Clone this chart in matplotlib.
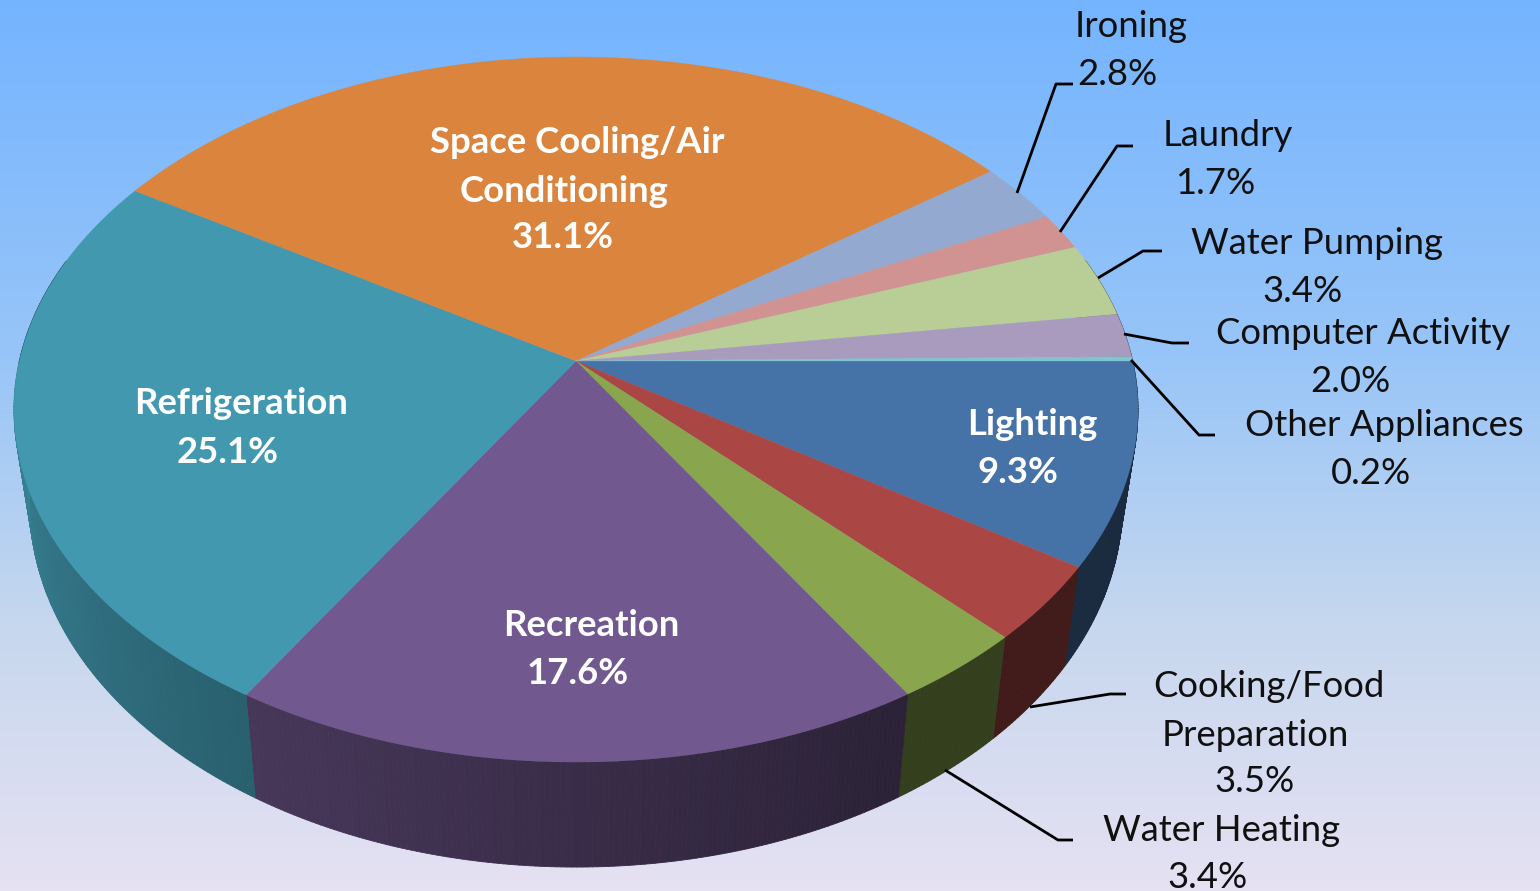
import numpy as np
import matplotlib
matplotlib.use('Agg')
import matplotlib.pyplot as plt
from matplotlib.collections import PolyCollection
from matplotlib.colors import LinearSegmentedColormap, to_rgb

# clockwise from 3 o'clock
categorias = ['Lighting', 'Cooking/Food Preparation', 'Water Heating', 'Recreation',
              'Refrigeration', 'Space Cooling/Air Conditioning', 'Ironing', 'Laundry',
              'Water Pumping', 'Computer Activity', 'Other Appliances']
valores = [9.3, 3.5, 3.4, 17.6, 25.1, 31.1, 2.8, 1.7, 3.4, 2.0, 0.2]
cores = ['#4572A7', '#AA4643', '#89A54E', '#71588F', '#4198AF', '#DB843D',
         '#93A9CF', '#D19392', '#B9CD96', '#A99BBD', '#7FC4CF']
linhas = [['Lighting'], ['Cooking/Food', 'Preparation'], ['Water Heating'], ['Recreation'],
          ['Refrigeration'], ['Space Cooling/Air', 'Conditioning'], ['Ironing'], ['Laundry'],
          ['Water Pumping'], ['Computer Activity'], ['Other Appliances']]

# x centre and baseline of each text line, the percentage being the last one
pos_texto = [
    [(1032, 435), (1018, 483)],
    [(1269, 697), (1255, 746), (1255, 792)],
    [(1222, 841), (1208, 888)],
    [(591, 636), (578, 684)],
    [(241, 414), (228, 463)],
    [(577, 153), (564, 202), (563, 248)],
    [(1131, 37), (1117, 85)],
    [(1228, 146), (1215, 194)],
    [(1317, 254), (1303, 302)],
    [(1363, 344), (1350, 392)],
    [(1384, 436), (1371, 484)],
]
# leader lines, None for labels inside the pie
guias = [
    None,
    [(1030, 707), (1110, 694), (1126, 694)],
    [(945, 770), (1058, 840), (1073, 840)],
    None,
    None,
    None,
    [(1017, 193), (1056, 84), (1073, 84)],
    [(1060, 232), (1117, 146), (1133, 146)],
    [(1098, 278), (1143, 251), (1162, 251)],
    [(1124, 334), (1172, 343), (1189, 343)],
    [(1131, 360), (1199, 435), (1215, 435)],
]

# perspective of the pie disc, in pixels
CX, CY = 576, 361
K = 0.1376
B = -296.2
A = 556.7


def topo(theta):
    x, y = np.cos(theta), np.sin(theta)
    d = 1 + K * y
    return CX + A * x / d, (CY + B * y) / d


def fundo(theta):
    px, py = topo(theta)
    return CX + 0.972 * (px - CX), 867 + 1.03 * (py - 762)


def sombra(graus):
    return np.interp(graus, [-180, -122, -58, 0], [0.88, 0.63, 0.38, 0.38])


fig = plt.figure(figsize=(15.4, 8.91), dpi=100)
ax = fig.add_axes([0, 0, 1, 1])
ax.set_xlim(0, 1540)
ax.set_ylim(891, 0)
ax.axis('off')

degrade = LinearSegmentedColormap.from_list(
    'ceu', [(0, '#74B4FF'), (0.4, '#98C5F8'), (0.7, '#C6D7EE'), (1, '#E6E1F3')])
ax.imshow(np.linspace(0, 1, 256).reshape(-1, 1), cmap=degrade, aspect='auto',
          extent=(0, 1540, 891, 0), zorder=0)

fracoes = np.cumsum([0] + valores) / sum(valores)
angulos = -2 * np.pi * fracoes

# side wall, thin strips so the shade can change along the rim
tiras, cores_tiras = [], []
for i in range(len(valores)):
    n = max(2, int(abs(angulos[i + 1] - angulos[i]) * 120))
    t = np.linspace(angulos[i], angulos[i + 1], n + 1)
    base = np.array(to_rgb(cores[i]))
    for a0, a1 in zip(t[:-1], t[1:]):
        if np.sin((a0 + a1) / 2) > 0.3:
            continue
        tiras.append([topo(a0), topo(a1), fundo(a1), fundo(a0)])
        g = np.degrees((a0 + a1) / 2)
        g = g + 360 if g < -180 else g
        cores_tiras.append(base * sombra(g))
ax.add_collection(PolyCollection(tiras, facecolors=cores_tiras, edgecolors=cores_tiras,
                                 linewidths=0.6, zorder=1))

# top face
for i in range(len(valores)):
    n = max(2, int(abs(angulos[i + 1] - angulos[i]) * 120))
    px, py = topo(np.linspace(angulos[i], angulos[i + 1], n + 1))
    ax.fill(np.r_[CX, px], np.r_[CY, py], color=cores[i], lw=0.2, zorder=2)

for guia in guias:
    if guia:
        xs, ys = zip(*guia)
        ax.plot(xs, ys, color='black', lw=2, solid_capstyle='butt', zorder=3)

for i, nomes in enumerate(linhas):
    dentro = guias[i] is None
    textos = nomes + [f'{valores[i]:.1f}%']
    for txt, (x, y) in zip(textos, pos_texto[i]):
        ax.text(x, y, txt, ha='center', va='baseline', family='Lato', fontsize=26.3,
                color='white' if dentro else '#101010',
                fontweight='bold' if dentro else 'normal', zorder=4)

fig.savefig('out.png', dpi=100)
